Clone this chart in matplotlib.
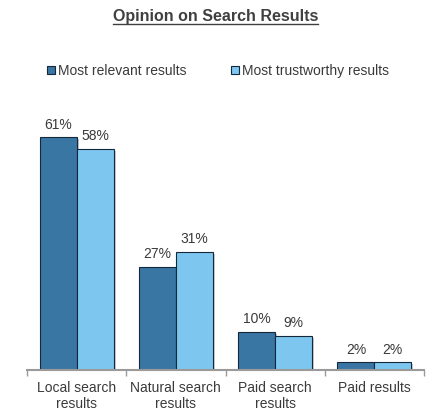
import numpy as np
import matplotlib
matplotlib.use('Agg')
import matplotlib.pyplot as plt
import matplotlib.patheffects as pe
from matplotlib.patches import Rectangle

plt.rcParams['font.family'] = ['Liberation Sans', 'DejaVu Sans']

categories = ['Local search\nresults', 'Natural search\nresults', 'Paid search\nresults', 'Paid results']
relevant = [61, 27, 10, 2]
trustworthy = [58, 31, 9, 2]
series_names = ['Most relevant results', 'Most trustworthy results']

dark = '#3A76A3'
light = '#7DC6EF'
text_col = '#3a3a3a'
axis_col = '#9a9a9a'

fig = plt.figure(figsize=(4.32, 4.2), dpi=100)
ax = fig.add_axes([27 / 432, 50 / 420, 397 / 432, 267 / 420])

x = np.arange(len(categories))
w = 0.372
shadow = [pe.SimplePatchShadow(offset=(1.5, -1.5), alpha=0.25), pe.Normal()]
b1 = ax.bar(x - w / 2, relevant, w, color=dark, edgecolor='#14283a', linewidth=0.8,
            path_effects=shadow)
b2 = ax.bar(x + w / 2, trustworthy, w, color=light, edgecolor='#14283a', linewidth=0.8,
            path_effects=shadow)

for bars, vals in [(b1, relevant), (b2, trustworthy)]:
    for r, v in zip(bars, vals):
        ax.text(r.get_x() + r.get_width() / 2, v + 1.5, f'{v}%', ha='center', va='bottom',
                fontsize=10, color=text_col)

ax.set_xlim(-0.5, len(categories) - 0.5)
ax.set_ylim(0, 70)
ax.set_yticks([])
ax.set_xticks(x)
ax.set_xticklabels(categories, fontsize=10, color=text_col, linespacing=1.2)
ax.tick_params(axis='x', length=0, pad=8)
ax.set_xticks(np.arange(len(categories) + 1) - 0.5, minor=True)
ax.tick_params(axis='x', which='minor', length=4, color=axis_col, width=1, direction='out')
for s in ['top', 'right', 'left']:
    ax.spines[s].set_visible(False)
ax.spines['bottom'].set_color(axis_col)
ax.spines['bottom'].set_linewidth(1.5)

fig.text(0.5, 1 - 16 / 420, 'Opinion on Search Results', ha='center', va='center',
         fontsize=11.5, fontweight='bold', color='#404040')
# underline
fig.add_artist(plt.Line2D([113 / 432, 318 / 432], [1 - 24 / 420, 1 - 24 / 420],
                          color='#404040', linewidth=1.0))

handles = [Rectangle((0, 0), 1, 1, facecolor=dark, edgecolor='#14283a', linewidth=0.8),
           Rectangle((0, 0), 1, 1, facecolor=light, edgecolor='#14283a', linewidth=0.8)]
fig.legend(handles, series_names, loc='center', bbox_to_anchor=(0.505, 1 - 71 / 420),
           ncol=2, frameon=False, fontsize=10, handlelength=0.55, handleheight=0.55,
           handletextpad=0.25, columnspacing=3.2, labelcolor=text_col)

fig.savefig('out.png', dpi=100)
